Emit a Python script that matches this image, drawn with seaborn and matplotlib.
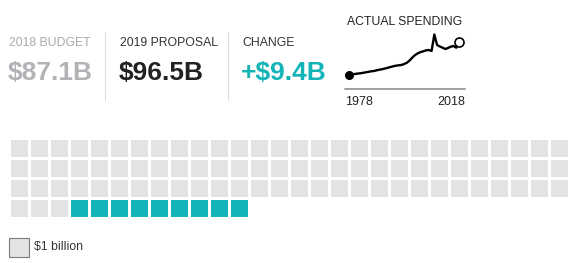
import numpy as np
import pandas as pd
import matplotlib.pyplot as plt
import seaborn as sns
from matplotlib.colors import ListedColormap
from matplotlib.patches import Rectangle

# ---- data ----
budget_2018 = 87.1
proposal_2019 = 96.5
change = 9.4

years = list(range(1978, 2019))
spending = [26.1, 27.0, 28.0, 28.7, 29.3, 30.2, 31.1, 32.1, 33.0, 33.6,
            34.9, 36.0, 36.9, 38.2, 39.5, 41.0, 42.3, 43.5, 44.2, 44.8,
            46.6, 49.0, 53.2, 58.7, 63.4, 66.6, 69.0, 70.3, 72.2, 72.7,
            70.9, 101.6, 82.1, 79.3, 77.0, 74.6, 76.5, 78.9, 80.2, 77.0,
            87.1]

labels = ["2018 BUDGET", "2019 PROPOSAL", "CHANGE"]
values = ["$87.1B", "$96.5B", "+$9.4B"]

GRAY = "#e2e3e5"
TEAL = "#13b4b7"

W, H = 572, 263


def fx(px):
    return px / W


def fy(py):
    return 1 - py / H


sns.set_theme(style="white")
plt.rcParams["font.family"] = ["Liberation Sans", "DejaVu Sans"]

fig = plt.figure(figsize=(W / 100, H / 100), dpi=100)

# ---- header numbers ----
label_colors = ["#a9a9a9", "#333333", "#333333"]
value_colors = ["#b1b3b6", "#222222", TEAL]
xs = [9, 120, 242]
for x, lab, val, lc, vc in zip(xs, labels, values, label_colors, value_colors):
    fig.text(fx(x), fy(46), lab, fontsize=8.8, color=lc, va="baseline", ha="left")
    fig.text(fx(x - 1), fy(80), val, fontsize=19, fontweight="bold", color=vc,
             va="baseline", ha="left")

for x in [105, 228]:
    fig.add_artist(plt.Line2D([fx(x), fx(x)], [fy(32), fy(100)],
                              color="#dddddd", lw=0.8))

# ---- sparkline ----
ax_s = fig.add_axes([fx(345), fy(89), fx(465) - fx(345), fy(30) - fy(89)])
df = pd.DataFrame({"year": years, "spending": spending})
sns.lineplot(data=df, x="year", y="spending", ax=ax_s, color="black", lw=1.7)
ax_s.plot(years[0], spending[0], "o", color="black", ms=5.5)
ax_s.plot(years[-1], spending[-1], "o", mfc="white", mec="black", mew=1.2, ms=6.5)
ax_s.set_xlim(1978 - 4.3 / 2.75, 2018 + 6 / 2.75)
ax_s.set_ylim(0, 59 * 1.865)
ax_s.axis("off")
fig.add_artist(plt.Line2D([fx(345), fx(465)], [fy(89), fy(89)],
                          color="#999999", lw=1.3))
fig.text(fx(405), fy(25), "ACTUAL SPENDING", fontsize=8.8, color="#222222",
         ha="center", va="baseline")
fig.text(fx(345), fy(105), str(years[0]), fontsize=9, color="#222222",
         ha="left", va="baseline")
fig.text(fx(465), fy(105), str(years[-1]), fontsize=9, color="#222222",
         ha="right", va="baseline")

# ---- waffle grid ----
ncols, nrows = 28, 4
n_gray = int(budget_2018)
n_teal = int(proposal_2019) - n_gray
cells = np.full(ncols * nrows, np.nan)
cells[:n_gray] = 0
cells[n_gray:n_gray + n_teal] = 1
grid = cells.reshape(nrows, ncols)

ax_g = fig.add_axes([fx(9), fy(218), fx(569) - fx(9), fy(138) - fy(218)])
sns.heatmap(grid, ax=ax_g, cmap=ListedColormap([GRAY, TEAL]), vmin=0, vmax=1,
            cbar=False, linewidths=0.75, linecolor="white",
            xticklabels=False, yticklabels=False)
ax_g.axis("off")

# ---- legend ----
fig.add_artist(Rectangle((fx(9), fy(257)), fx(29) - fx(9), fy(238) - fy(257),
                         transform=fig.transFigure, facecolor=GRAY,
                         edgecolor="#7a7a7a", lw=0.8))
fig.text(fx(34), fy(247), "$1 billion", fontsize=8.8, color="#333333",
         ha="left", va="center")

fig.savefig("out.png", dpi=100)
